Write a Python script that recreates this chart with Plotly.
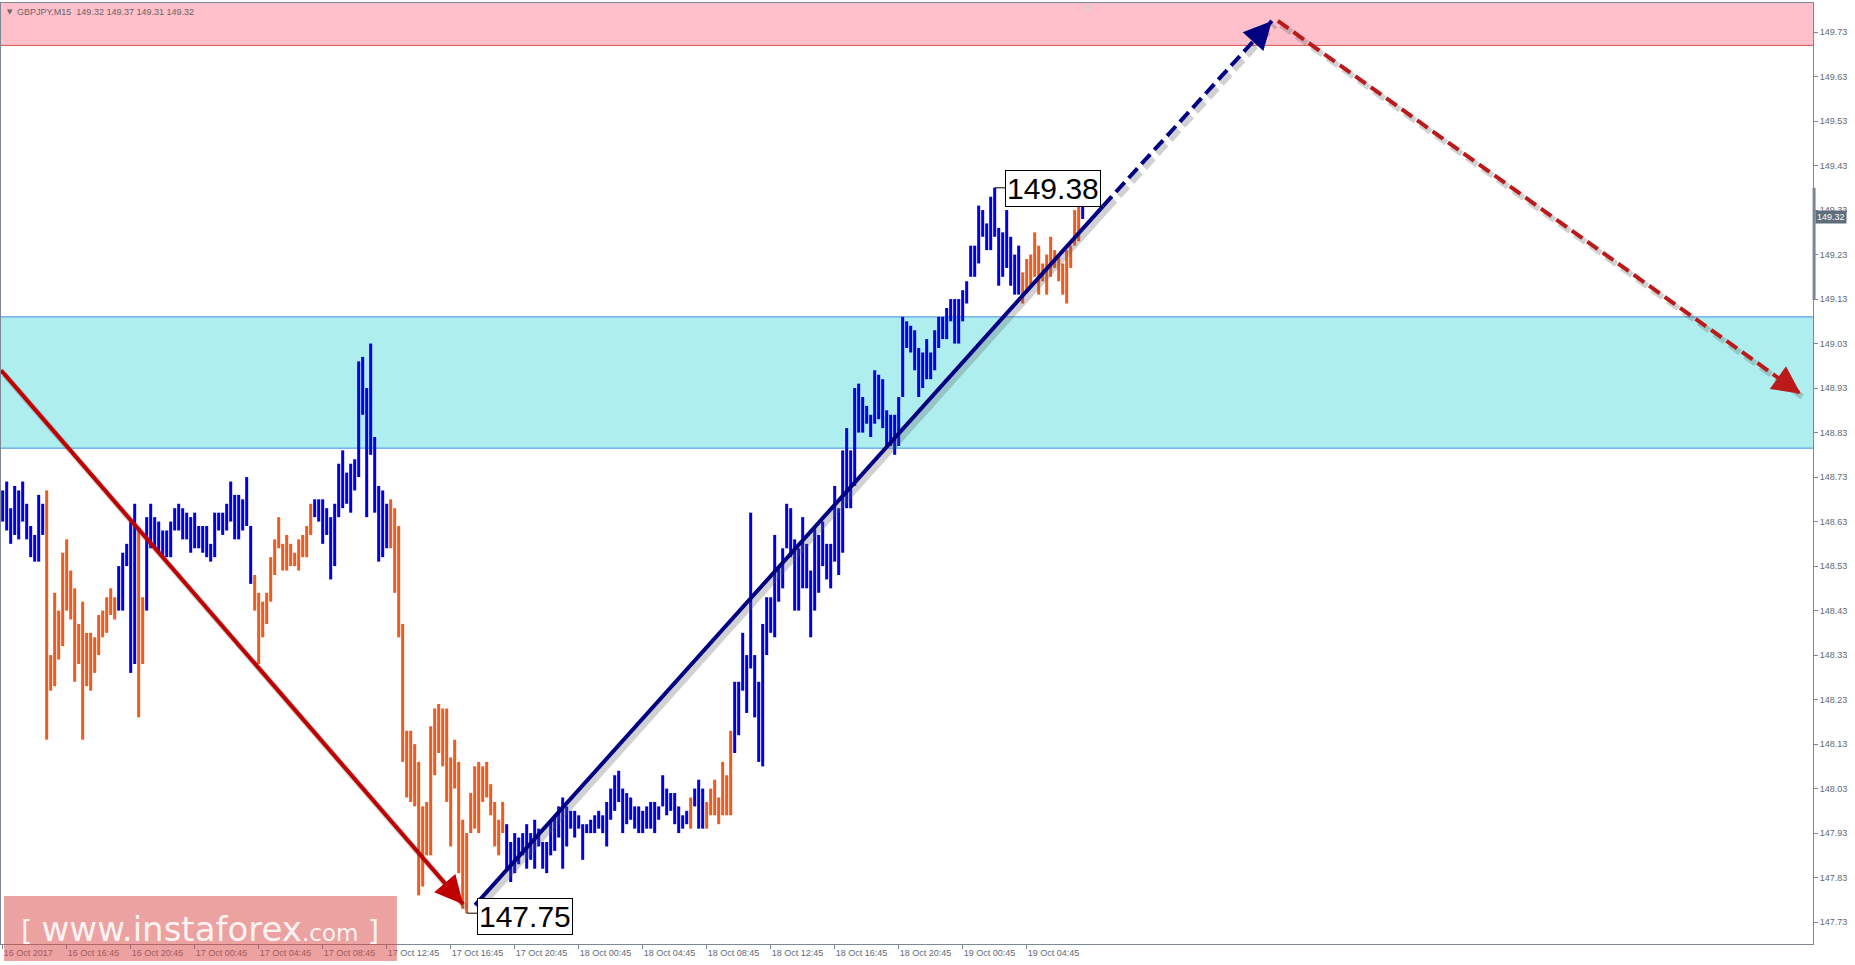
import plotly.graph_objects as go

# ------------------------------------------------------------------ data
# GBPJPY M15 bars (bar 1 = 16 Oct 12:45)
high = [
    148.70, 148.72, 148.66, 148.71, 148.70, 148.72, 148.67, 148.62, 148.60, 148.69,
    148.67, 148.70, 148.33, 148.47, 148.43, 148.56, 148.59, 148.52, 148.48, 148.40,
    148.45, 148.38, 148.38, 148.37, 148.42, 148.43, 148.46, 148.48, 148.46, 148.53,
    148.56, 148.58, 148.63, 148.67, 148.61, 148.46, 148.64, 148.67, 148.64, 148.63,
    148.61, 148.61, 148.63, 148.66, 148.67, 148.66, 148.65, 148.64, 148.65, 148.62,
    148.62, 148.62, 148.58, 148.65, 148.65, 148.65, 148.67, 148.72, 148.69, 148.69,
    148.68, 148.73, 148.62, 148.51, 148.47, 148.45, 148.47, 148.55, 148.59, 148.64,
    148.58, 148.60, 148.58, 148.56, 148.59, 148.60, 148.62, 148.67, 148.68, 148.68,
    148.68, 148.66, 148.64, 148.67, 148.76, 148.79, 148.74, 148.76, 148.77, 148.99,
    149.00, 148.93, 149.03, 148.82, 148.71, 148.70, 148.67, 148.68, 148.66, 148.62,
    148.40, 148.16, 148.16, 148.13, 148.09, 147.99, 148.00, 148.17, 148.21, 148.22,
    148.21, 148.21, 148.10, 148.14, 148.09, 147.96, 147.93, 148.02, 148.08, 148.09,
    148.08, 148.09, 148.04, 148.00, 147.96, 148.00, 147.95, 147.91, 147.93, 147.92,
    147.93, 147.95, 147.93, 147.96, 147.94, 147.91, 147.91, 147.96, 147.97, 147.99,
    148.01, 147.99, 147.98, 147.98, 147.97, 147.95, 147.95, 147.96, 147.97, 147.98,
    147.97, 148.00, 148.03, 148.06, 148.07, 148.03, 148.02, 148.01, 147.99, 147.99,
    147.98, 147.99, 148.00, 148.00, 147.99, 148.06, 148.03, 148.02, 148.02, 147.99,
    147.97, 147.98, 148.01, 148.03, 148.05, 148.03, 148.00, 148.03, 148.05, 148.01,
    148.09, 148.06, 148.16, 148.27, 148.27, 148.38, 148.33, 148.65, 148.33, 148.27,
    148.40, 148.46, 148.46, 148.60, 148.53, 148.57, 148.67, 148.66, 148.59, 148.57,
    148.64, 148.58, 148.52, 148.62, 148.60, 148.63, 148.58, 148.58, 148.71, 148.66,
    148.79, 148.84, 148.79, 148.93, 148.94, 148.91, 148.89, 148.87, 148.97, 148.96,
    148.95, 148.88, 148.87, 148.87, 148.91, 149.09, 149.08, 149.07, 149.06, 149.02,
    149.01, 149.04, 149.01, 149.06, 149.09, 149.09, 149.11, 149.13, 149.13, 149.13,
    149.15, 149.17, 149.25, 149.25, 149.34, 149.33, 149.30, 149.36, 149.38, 149.29,
    149.28, 149.33, 149.27, 149.23, 149.25, 149.19, 149.22, 149.23, 149.28, 149.25,
    149.21, 149.23, 149.27, 149.24, 149.23, 149.21, 149.24, 149.25, 149.33, 149.36,
    149.37,
]
low = [
    148.63, 148.61, 148.58, 148.60, 148.59, 148.63, 148.59, 148.55, 148.54, 148.54,
    148.60, 148.14, 148.25, 148.26, 148.32, 148.35, 148.43, 148.41, 148.27, 148.31,
    148.14, 148.26, 148.25, 148.29, 148.33, 148.37, 148.38, 148.42, 148.41, 148.43,
    148.43, 148.53, 148.29, 148.31, 148.19, 148.31, 148.43, 148.57, 148.57, 148.56,
    148.55, 148.55, 148.55, 148.61, 148.61, 148.59, 148.59, 148.56, 148.57, 148.57,
    148.56, 148.55, 148.54, 148.55, 148.61, 148.60, 148.61, 148.63, 148.59, 148.59,
    148.61, 148.62, 148.49, 148.43, 148.31, 148.37, 148.40, 148.45, 148.51, 148.57,
    148.52, 148.52, 148.53, 148.53, 148.52, 148.55, 148.55, 148.60, 148.64, 148.63,
    148.58, 148.60, 148.50, 148.53, 148.64, 148.66, 148.67, 148.65, 148.70, 148.73,
    148.87, 148.64, 148.78, 148.65, 148.54, 148.55, 148.57, 148.57, 148.47, 148.37,
    148.09, 148.01, 148.00, 147.99, 147.79, 147.81, 147.88, 147.88, 148.06, 148.11,
    148.08, 148.00, 147.90, 148.03, 147.84, 147.76, 147.75, 147.93, 147.94, 147.93,
    148.00, 148.01, 147.97, 147.90, 147.88, 147.93, 147.85, 147.82, 147.84, 147.86,
    147.88, 147.85, 147.87, 147.85, 147.90, 147.85, 147.84, 147.88, 147.89, 147.92,
    147.85, 147.90, 147.94, 147.92, 147.94, 147.87, 147.93, 147.93, 147.93, 147.94,
    147.93, 147.90, 147.96, 147.98, 148.00, 147.93, 147.95, 147.96, 147.94, 147.93,
    147.93, 147.94, 147.94, 147.93, 147.96, 147.99, 147.97, 147.98, 147.95, 147.93,
    147.94, 147.95, 147.94, 147.99, 147.94, 147.94, 147.94, 147.97, 147.97, 147.95,
    147.97, 147.97, 147.97, 148.11, 148.15, 148.25, 148.20, 148.30, 148.19, 148.09,
    148.08, 148.33, 148.38, 148.37, 148.45, 148.48, 148.57, 148.55, 148.43, 148.43,
    148.48, 148.48, 148.37, 148.43, 148.47, 148.53, 148.50, 148.48, 148.54, 148.51,
    148.56, 148.66, 148.66, 148.71, 148.83, 148.83, 148.85, 148.82, 148.85, 148.86,
    148.84, 148.80, 148.80, 148.78, 148.80, 148.91, 149.02, 149.01, 148.97, 148.91,
    148.93, 148.95, 148.95, 148.97, 149.02, 149.04, 149.04, 149.08, 149.03, 149.03,
    149.08, 149.12, 149.18, 149.18, 149.21, 149.27, 149.24, 149.24, 149.27, 149.16,
    149.18, 149.20, 149.16, 149.14, 149.14, 149.12, 149.15, 149.16, 149.18, 149.14,
    149.17, 149.14, 149.18, 149.20, 149.17, 149.14, 149.12, 149.20, 149.25, 149.26,
    149.31,
]
# u = bull bar (blue), d = bear bar (orange)
direction = (
    "uuuuuuuuuu" "uddddddddd" "dddddddddu" "uuuudduuuu"
    "uuuuuuuuuu" "uuuuuuuuuu" "uuuddddddd" "dddddddduu"
    "uuuuuuuuuu" "uuuuuuuddd" "dddddddddd" "dddddddddd"
    "dddddduuuu" "uuuuuuuuuu" "uuuuuuuuuu" "uuuuuuuuuu"
    "uuuuuuuuuu" "uuduuudddd" "ddduuuuuuu" "uuuuuuuuuu"
    "uuuuuuuuuu" "uuuuuuuuuu" "uuuuuuuuuu" "uuuuuuuuuu"
    "uuuuuuuuuu" "uuuuuddddd" "dddddddddd" "u"
)

tick_bars = [1, 17, 33, 49, 65, 81, 97, 113, 129, 145, 161, 177, 193, 209, 225, 241, 257]
tick_labels = [
    "16 Oct 2017", "16 Oct 16:45", "16 Oct 20:45", "17 Oct 00:45", "17 Oct 04:45",
    "17 Oct 08:45", "17 Oct 12:45", "17 Oct 16:45", "17 Oct 20:45", "18 Oct 00:45",
    "18 Oct 04:45", "18 Oct 08:45", "18 Oct 12:45", "18 Oct 16:45", "18 Oct 20:45",
    "19 Oct 00:45", "19 Oct 04:45",
]
price_ticks = [147.73, 147.83, 147.93, 148.03, 148.13, 148.23, 148.33, 148.43, 148.53,
               148.63, 148.73, 148.83, 148.93, 149.03, 149.13, 149.23, 149.33, 149.43,
               149.53, 149.63, 149.73]

sell_zone = [149.70, 149.90]
buy_zone = [148.795, 149.09]

wave_down = [(0.6, 148.97), (116.1, 147.77)]           # solid red arrow
wave_up = [(119.1, 147.768), (276.1, 149.339)]         # solid navy line
forecast_up = [(276.1, 149.339), (318.3, 149.755)]     # dashed navy arrow
forecast_down = [(319.8, 149.755), (450.5, 148.917)]   # dashed red arrow

low_bar, low_price = 117, 147.75
high_bar, high_price = 249, 149.38
last_price = 149.32
range_marker = [149.128, 149.38]
header = "GBPJPY,M15  149.32 149.37 149.31 149.32"

# ------------------------------------------------------------------ styles
BLUE = "#0000e8"
ORANGE = "#f15a1e"
AXIS = "#7d8894"
TXT = "#5f6a76"
RED = "#c00000"
NAVY = "#000080"
RED_D = "#bb1a1a"
X_RANGE = [0.58, 453.58]
Y_RANGE = [147.6808, 149.7953]

bars = list(range(1, len(high) + 1))
colors = [BLUE if d == "u" else ORANGE for d in direction]

fig = go.Figure()

fig.add_trace(go.Bar(
    x=bars, base=low, y=[h - l for h, l in zip(high, low)],
    width=0.75, marker=dict(color=colors, line=dict(width=0)),
    hoverinfo="skip", showlegend=False,
))

annotations = []


def add_line(pts, color, dash="solid", width=4):
    (x0, y0), (x1, y1) = pts
    fig.add_trace(go.Scatter(
        x=[x0 + 0.8, x1 + 0.8], y=[y0 - 0.009, y1 - 0.009], mode="lines",
        line=dict(color="rgba(90,90,90,0.28)", width=width + 2, dash=dash),
        hoverinfo="skip", showlegend=False))
    fig.add_trace(go.Scatter(
        x=[x0, x1], y=[y0, y1], mode="lines",
        line=dict(color=color, width=width, dash=dash),
        hoverinfo="skip", showlegend=False))


def head(pts, color, frac):
    (x0, y0), (x1, y1) = pts
    return dict(
        x=x1, y=y1, ax=x1 + (x0 - x1) * frac, ay=y1 + (y0 - y1) * frac,
        xref="x", yref="y", axref="x", ayref="y", text="",
        showarrow=True, arrowhead=2, arrowsize=1.4, arrowwidth=4,
        arrowcolor=color, standoff=0)


add_line(wave_down, RED)
add_line(wave_up, NAVY)
add_line(forecast_up, NAVY, dash="13px,6px")
add_line(forecast_down, RED_D, dash="13px,6px")
annotations += [head(wave_down, RED, 0.04), head(forecast_up, NAVY, 0.11),
                head(forecast_down, RED_D, 0.045)]

shapes = [
    dict(type="rect", xref="paper", yref="y", x0=0, x1=1, y0=sell_zone[0], y1=sell_zone[1],
         fillcolor="#ffc0cb", line=dict(width=0), layer="below"),
    dict(type="line", xref="paper", yref="y", x0=0, x1=1, y0=sell_zone[0], y1=sell_zone[0],
         line=dict(color="#d9534f", width=1), layer="below"),
    dict(type="rect", xref="paper", yref="y", x0=0, x1=1, y0=buy_zone[0], y1=buy_zone[1],
         fillcolor="#afeeee", line=dict(width=0), layer="below"),
    dict(type="line", xref="paper", yref="y", x0=0, x1=1, y0=buy_zone[0], y1=buy_zone[0],
         line=dict(color="#3d8fe0", width=1), layer="below"),
    dict(type="line", xref="paper", yref="y", x0=0, x1=1, y0=buy_zone[1], y1=buy_zone[1],
         line=dict(color="#3d8fe0", width=1), layer="below"),
    dict(type="line", xref="x", yref="y", x0=low_bar, x1=low_bar + 2.6, y0=low_price, y1=low_price,
         line=dict(color="black", width=1)),
    dict(type="line", xref="x", yref="y", x0=high_bar, x1=high_bar + 2.6, y0=high_price, y1=high_price,
         line=dict(color="black", width=1)),
    dict(type="line", xref="paper", yref="y", x0=1.0006, x1=1.0006, y0=range_marker[0], y1=range_marker[1],
         line=dict(color="#7b8795", width=3)),
    dict(type="rect", xref="paper", yref="paper", x0=0.0017, x1=0.2185, y0=-0.0181, y1=0.0510,
         fillcolor="rgba(220,70,70,0.5)", line=dict(width=0), layer="above"),
]

annotations += [
    dict(x=low_bar + 2.6, y=low_price, xref="x", yref="y", xanchor="left", yanchor="middle",
         yshift=-3, text="147.75", showarrow=False, bgcolor="white", bordercolor="black",
         borderwidth=1, borderpad=1, font=dict(family="Liberation Sans", size=30, color="black")),
    dict(x=high_bar + 2.6, y=high_price, xref="x", yref="y", xanchor="left", yanchor="middle",
         yshift=-1, text="149.38", showarrow=False, bgcolor="white", bordercolor="black",
         borderwidth=1, borderpad=1, font=dict(family="Liberation Sans", size=30, color="black")),
    dict(x=1, y=last_price, xref="paper", yref="y", xanchor="left", yanchor="middle", xshift=2,
         yshift=-2, text="149.32", showarrow=False, bgcolor="#5f6d7b", borderpad=1,
         font=dict(family="Liberation Sans", size=9, color="white")),
    dict(x=0, y=1, xref="paper", yref="paper", xanchor="left", yanchor="top", xshift=4, yshift=-3,
         text="▼", showarrow=False, font=dict(family="DejaVu Sans", size=7, color="#666666")),
    dict(x=0, y=1, xref="paper", yref="paper", xanchor="left", yanchor="top", xshift=14, yshift=-2,
         text=header, showarrow=False, font=dict(family="Liberation Sans", size=9, color="#666666")),
    dict(x=0.5995, y=1, xref="paper", yref="paper", xanchor="center", yanchor="top", yshift=1,
         text="▼", showarrow=False, font=dict(family="DejaVu Sans", size=8, color="#d0d0d0")),
    dict(x=0.110, y=0.016, xref="paper", yref="paper", xanchor="center", yanchor="middle",
         text='[ <span style="font-size:34px">www.instaforex</span>'
              '<span style="font-size:23px">.com</span> ]',
         showarrow=False, font=dict(family="DejaVu Sans", size=29, color="rgba(255,255,255,0.9)")),
]

fig.update_layout(
    width=1855, height=965,
    margin=dict(l=1, r=42, t=3, b=21, pad=0),
    paper_bgcolor="white", plot_bgcolor="white",
    barmode="overlay", hovermode=False, showlegend=False,
    shapes=shapes, annotations=annotations,
    font=dict(family="Liberation Sans", size=9, color=TXT),
    xaxis=dict(range=X_RANGE, tickmode="array", tickvals=tick_bars, ticktext=tick_labels,
               ticks="outside", ticklen=4, tickcolor=AXIS, ticklabelposition="outside right",
               showline=True, linecolor=AXIS, linewidth=1, mirror=True,
               showgrid=False, zeroline=False, fixedrange=True,
               tickfont=dict(family="Liberation Sans", size=9, color=TXT)),
    yaxis=dict(range=Y_RANGE, side="right", tickmode="array", tickvals=price_ticks,
               ticktext=[f"{p:.2f}" for p in price_ticks],
               ticks="outside", ticklen=4, tickcolor=AXIS,
               showline=True, linecolor=AXIS, linewidth=1, mirror=True,
               showgrid=False, zeroline=False, fixedrange=True,
               tickfont=dict(family="Liberation Sans", size=9, color=TXT)),
)

fig.write_html("out.html", config={"displayModeBar": False},
               post_script="document.body.style.margin='0';document.body.style.overflow='hidden';")
